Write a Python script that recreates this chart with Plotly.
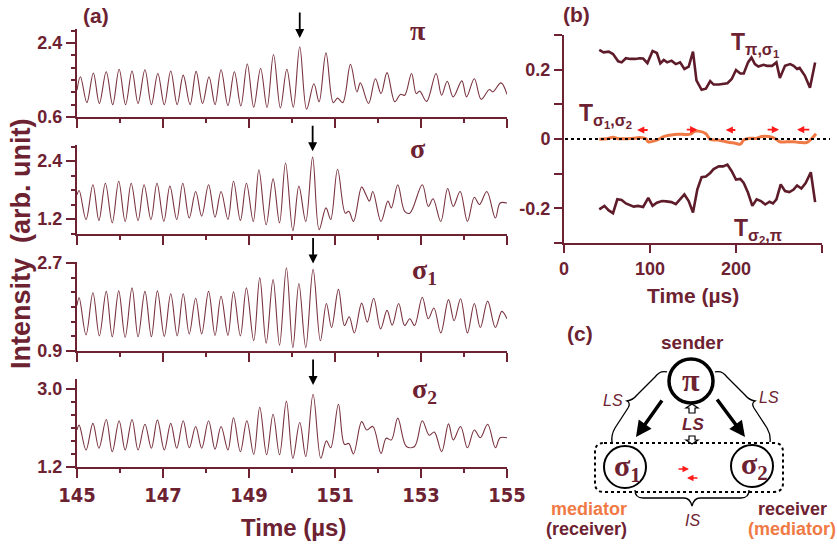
import plotly.graph_objects as go

W, H = 837, 548
MAROON = "#6d2232"
TRACE = "#7a3440"
ORANGE = "#f07a45"

# ---------------- panel (a): intensity traces (time in µs) ----------------
pi_t = [145.00, 145.08, 145.23, 145.38, 145.52, 145.68, 145.83, 145.98, 146.13, 146.28, 146.42, 146.58,
        146.73, 146.88, 147.03, 147.18, 147.33, 147.47, 147.63, 147.77, 147.92, 148.07, 148.21, 148.35,
        148.51, 148.66, 148.81, 148.96, 149.11, 149.27, 149.42, 149.57, 149.73, 149.88, 150.03, 150.18,
        150.34, 150.51, 150.63, 150.79, 150.96, 151.06, 151.18, 151.36, 151.51, 151.59, 151.78, 151.94,
        152.07, 152.21, 152.39, 152.52, 152.62, 152.78, 152.89, 152.97, 153.13, 153.35, 153.48, 153.61,
        153.75, 153.95, 154.06, 154.24, 154.40, 154.59, 154.67, 154.86, 155.00]
pi_v = [1.25, 1.58, 0.95, 1.67, 0.93, 1.70, 0.90, 1.76, 0.90, 1.72, 0.93, 1.75,
        0.90, 1.66, 0.90, 1.72, 0.90, 1.62, 0.90, 1.71, 0.93, 1.58, 0.90, 1.75,
        0.88, 1.70, 0.87, 1.89, 0.84, 1.78, 0.83, 2.12, 0.82, 1.76, 0.84, 2.31,
        0.79, 1.41, 0.97, 2.16, 0.95, 1.06, 0.95, 1.88, 1.21, 1.43, 0.93, 1.53,
        1.17, 1.68, 0.97, 1.15, 1.13, 1.66, 1.17, 1.23, 0.98, 1.66, 1.13, 1.47,
        1.09, 1.48, 1.09, 1.53, 1.03, 1.27, 1.21, 1.43, 1.15]

sg_t = [145.00, 145.05, 145.21, 145.37, 145.51, 145.66, 145.82, 145.97, 146.12, 146.26, 146.42, 146.56,
        146.72, 146.86, 147.02, 147.16, 147.32, 147.46, 147.61, 147.76, 147.90, 148.06, 148.21, 148.35,
        148.51, 148.64, 148.80, 148.94, 149.10, 149.23, 149.40, 149.56, 149.71, 149.85, 150.02, 150.16,
        150.32, 150.48, 150.63, 150.79, 150.90, 151.06, 151.24, 151.32, 151.43, 151.62, 151.72, 151.80,
        151.88, 152.07, 152.23, 152.31, 152.46, 152.62, 152.74, 153.03, 153.17, 153.28, 153.46, 153.62,
        153.75, 153.91, 154.08, 154.24, 154.36, 154.53, 154.73, 154.84, 155.00]
sg_v = [1.70, 1.79, 1.19, 1.91, 1.17, 1.94, 1.12, 1.98, 1.15, 1.94, 1.17, 1.91,
        1.19, 1.94, 1.15, 1.88, 1.19, 1.94, 1.22, 1.77, 1.26, 1.91, 1.24, 1.77,
        1.19, 1.98, 1.17, 1.94, 1.15, 2.22, 1.08, 2.03, 1.12, 2.36, 0.96, 1.88,
        1.15, 2.48, 0.98, 1.43, 1.19, 2.23, 1.32, 1.36, 1.15, 1.86, 1.70, 1.57,
        1.77, 1.15, 1.57, 1.43, 1.91, 1.36, 1.32, 1.91, 1.46, 1.62, 1.15, 1.83,
        1.46, 1.77, 1.15, 1.65, 1.50, 1.77, 1.22, 1.53, 1.53]

s1_t = [145.00, 145.05, 145.21, 145.37, 145.52, 145.68, 145.82, 145.97, 146.12, 146.28, 146.42, 146.58,
        146.73, 146.87, 147.03, 147.18, 147.33, 147.47, 147.61, 147.76, 147.90, 148.06, 148.21, 148.35,
        148.51, 148.64, 148.80, 148.94, 149.11, 149.25, 149.40, 149.56, 149.71, 149.87, 150.02, 150.16,
        150.32, 150.49, 150.66, 150.80, 150.92, 151.08, 151.22, 151.33, 151.45, 151.62, 151.75, 151.90,
        152.06, 152.21, 152.33, 152.48, 152.62, 152.74, 152.85, 153.03, 153.17, 153.30, 153.46, 153.64,
        153.77, 153.92, 154.08, 154.24, 154.38, 154.55, 154.73, 154.88, 155.00]
s1_v = [1.83, 1.99, 1.23, 2.09, 1.21, 2.12, 1.19, 2.13, 1.18, 2.19, 1.19, 2.12,
        1.19, 2.13, 1.20, 2.07, 1.21, 2.07, 1.25, 1.98, 1.25, 2.12, 1.22, 2.02,
        1.22, 2.11, 1.21, 2.19, 1.11, 2.40, 1.06, 2.36, 1.02, 2.60, 0.97, 2.28,
        0.97, 2.57, 1.11, 1.87, 1.38, 2.16, 1.42, 1.60, 1.27, 1.88, 1.49, 1.98,
        1.35, 1.73, 1.43, 1.87, 1.42, 1.56, 1.42, 2.00, 1.56, 1.78, 1.27, 1.95,
        1.52, 1.97, 1.27, 1.87, 1.38, 1.92, 1.38, 1.71, 1.56]

s2_t = [145.00, 145.05, 145.21, 145.37, 145.51, 145.68, 145.82, 145.98, 146.12, 146.28, 146.42, 146.58,
        146.73, 146.87, 147.03, 147.18, 147.32, 147.47, 147.61, 147.76, 147.90, 148.06, 148.21, 148.35,
        148.51, 148.64, 148.80, 148.95, 149.11, 149.25, 149.41, 149.56, 149.71, 149.87, 150.02, 150.18,
        150.32, 150.49, 150.67, 150.80, 150.90, 151.08, 151.22, 151.32, 151.43, 151.62, 151.74, 151.88,
        152.07, 152.19, 152.31, 152.46, 152.66, 152.85, 153.03, 153.19, 153.31, 153.48, 153.64, 153.75,
        153.92, 154.08, 154.24, 154.38, 154.55, 154.73, 154.84, 155.00]
s2_v = [2.05, 2.16, 1.59, 2.20, 1.63, 2.29, 1.55, 2.26, 1.59, 2.29, 1.59, 2.18,
        1.63, 2.28, 1.59, 2.20, 1.63, 2.26, 1.64, 2.13, 1.63, 2.26, 1.61, 2.13,
        1.59, 2.33, 1.55, 2.26, 1.49, 2.57, 1.48, 2.41, 1.48, 2.71, 1.40, 2.22,
        1.44, 2.87, 1.40, 1.80, 1.64, 2.64, 1.72, 1.74, 1.50, 2.24, 2.05, 2.13,
        1.51, 1.86, 1.82, 2.32, 1.67, 1.67, 2.26, 1.93, 2.00, 1.55, 2.19, 1.82,
        2.13, 1.64, 2.05, 1.87, 2.18, 1.64, 1.87, 1.87]

# peak marked by an arrow in each trace: (time, intensity at arrow tip)
mark_t = [150.18, 150.48, 150.49, 150.49]
mark_v = [2.52, 2.60, 2.69, 3.08]

# ---------------- panel (b): transfer entropies vs time ----------------
tps_t = [41, 46, 52, 57, 63, 67, 72, 77, 83, 88, 92, 97, 103, 108, 112, 116, 120, 125, 130, 135,
         140, 145, 150, 154, 160, 165, 170, 174, 180, 185, 190, 195, 200, 205, 209, 214, 218, 222,
         226, 232, 236, 242, 247, 251, 257, 263, 267, 271, 274, 280, 286, 292]
tps_v = [0.257, 0.250, 0.252, 0.245, 0.224, 0.221, 0.233, 0.231, 0.231, 0.233, 0.232, 0.219, 0.254,
         0.248, 0.218, 0.228, 0.221, 0.226, 0.216, 0.221, 0.202, 0.209, 0.252, 0.169, 0.142, 0.145,
         0.167, 0.157, 0.157, 0.159, 0.161, 0.173, 0.199, 0.189, 0.189, 0.221, 0.235, 0.216, 0.209,
         0.214, 0.211, 0.211, 0.221, 0.176, 0.211, 0.216, 0.211, 0.202, 0.205, 0.183, 0.148, 0.221]

tsp_t = [41, 47, 52, 57, 62, 67, 72, 77, 81, 86, 92, 98, 103, 108, 114, 119, 125, 130, 135, 140,
         145, 150, 155, 160, 165, 170, 174, 180, 185, 190, 195, 200, 205, 209, 214, 219, 224, 229,
         234, 239, 243, 247, 252, 257, 262, 267, 271, 276, 281, 287, 292]
tsp_v = [-0.203, -0.193, -0.206, -0.214, -0.174, -0.176, -0.186, -0.190, -0.195, -0.193, -0.196,
         -0.170, -0.193, -0.184, -0.179, -0.180, -0.182, -0.188, -0.174, -0.160, -0.179, -0.212,
         -0.146, -0.110, -0.108, -0.098, -0.087, -0.079, -0.079, -0.074, -0.093, -0.117, -0.115,
         -0.127, -0.155, -0.193, -0.174, -0.179, -0.189, -0.181, -0.186, -0.174, -0.131, -0.150,
         -0.153, -0.146, -0.134, -0.143, -0.127, -0.096, -0.182]

tss_t = [41, 50, 57, 63, 73, 81, 88, 95, 98, 104, 110, 116, 123, 133, 141, 147, 152, 158, 165, 170,
         178, 185, 193, 199, 205, 209, 216, 224, 230, 238, 245, 251, 259, 267, 274, 282, 288, 293]
tss_v = [-0.001, 0.001, 0.005, 0.001, 0.001, 0.002, 0.004, 0.001, -0.008, -0.006, -0.001, 0.007,
         0.011, 0.014, 0.013, 0.014, 0.022, 0.022, 0.015, -0.001, -0.003, -0.006, -0.010, -0.012,
         -0.015, -0.003, 0.002, 0.002, 0.007, 0.007, 0.002, -0.008, -0.008, -0.008, -0.010, -0.010,
         0.001, 0.015]

# direction markers on the σ1–σ2 curve: (tail time, head time, level)
dir_tail = [99, 141, 201, 235, 287]
dir_head = [85, 155, 188, 250, 271]
dir_level = [0.026, 0.027, 0.026, 0.027, 0.027]


def px(x):
    return x / W


def py(y):
    return 1 - y / H


fig = go.Figure()

traces_a = [(pi_t, pi_v), (sg_t, sg_v), (s1_t, s1_v), (s2_t, s2_v)]
for i, (t, v) in enumerate(traces_a, start=1):
    fig.add_trace(go.Scatter(x=t, y=v, mode="lines", line=dict(color=TRACE, width=1.1, shape="spline", smoothing=1.0),
                             xaxis=f"x{i}", yaxis=f"y{i}", showlegend=False, hoverinfo="skip"))

fig.add_trace(go.Scatter(x=tps_t, y=tps_v, mode="lines", line=dict(color="#5e1c2a", width=2.6),
                         xaxis="x5", yaxis="y5", showlegend=False))
fig.add_trace(go.Scatter(x=tsp_t, y=tsp_v, mode="lines", line=dict(color="#5e1c2a", width=2.6),
                         xaxis="x5", yaxis="y5", showlegend=False))
fig.add_trace(go.Scatter(x=tss_t, y=tss_v, mode="lines", line=dict(color=ORANGE, width=3, shape="spline"),
                         xaxis="x5", yaxis="y5", showlegend=False))

# ---------------- axes ----------------
tickfont = dict(family="Liberation Sans, Arial", size=18, color=MAROON, weight="bold")
xtickfont = dict(family="Liberation Sans Narrow, DejaVu Sans Condensed, Liberation Sans", size=20,
                 color=MAROON, weight="bold")

# pixel boxes (top, bottom) of the four stacked plots, ranges and labelled ticks
rows = [
    (29, 117, [0.6, 2.741], [0.6, 2.4], 0.6),
    (145, 234, [0.890, 2.731], [1.2, 2.4], 0.9),
    (262, 351, [0.9, 2.72], [0.9, 2.7], 0.9),
    (379, 467, [1.2, 3.218], [1.2, 3.0], 1.2),
]
layout = dict(width=W, height=H, margin=dict(l=0, r=0, t=0, b=0, autoexpand=False), plot_bgcolor="white",
              paper_bgcolor="white", showlegend=False)
for i, (top, bot, rng, tv, t0) in enumerate(rows, start=1):
    layout[f"xaxis{i}"] = dict(domain=[px(77), px(507)], anchor=f"y{i}", range=[145, 155], automargin=False,
                               showline=True, linecolor=MAROON, linewidth=2, ticks="outside", ticklen=9,
                               tickwidth=2, tickcolor=MAROON, tickvals=[145, 147, 149, 151, 153, 155],
                               showticklabels=(i == 4), tickfont=xtickfont, showgrid=False, zeroline=False,
                               minor=dict(tickvals=[146, 148, 150, 152, 154], ticklen=4, tickwidth=2,
                                          tickcolor=MAROON, ticks="outside", showgrid=False))
    layout[f"yaxis{i}"] = dict(domain=[py(bot), py(top)], anchor=f"x{i}", range=rng, showline=True,
                               automargin=False, linecolor=MAROON, linewidth=2, ticks="outside", ticklen=9,
                               tickwidth=2, tickcolor=MAROON, tickvals=tv, ticktext=[f"{v:.1f}" for v in tv],
                               tickfont=tickfont, showgrid=False, zeroline=False,
                               minor=dict(tick0=t0, dtick=0.3, ticklen=4, tickwidth=2, tickcolor=MAROON,
                                          ticks="outside", showgrid=False))

layout["xaxis5"] = dict(domain=[px(564), px(822)], anchor="y5", range=[0, 300], showline=True, linecolor=MAROON,
                        automargin=False, linewidth=2, ticks="outside", ticklen=8, tickwidth=2, tickcolor=MAROON,
                        tickvals=[0, 100, 200, 300], tickfont=tickfont, showgrid=False, zeroline=False)
layout["yaxis5"] = dict(domain=[py(243), py(35)], anchor="x5", range=[-0.3, 0.3], showline=True,
                        automargin=False, linecolor=MAROON, linewidth=2, ticks="outside", ticklen=8, tickwidth=2,
                        tickcolor=MAROON, tickvals=[-0.3, -0.2, -0.1, 0, 0.1, 0.2, 0.3],
                        ticktext=["", "-0.2", "", "0", "", "0.2", ""], tickfont=tickfont,
                        showgrid=False, zeroline=False)
fig.update_layout(**layout)

ann = []
shapes = []

# arrows above the strongest peaks
for i, (t, v) in enumerate(zip(mark_t, mark_v), start=1):
    ann.append(dict(x=t, y=v, xref=f"x{i}", yref=f"y{i}", ax=0, ay=-27, showarrow=True, arrowhead=2,
                    arrowsize=1, arrowwidth=1.8, arrowcolor="black", text=""))

# direction markers in panel (b)
for a, b, lv in zip(dir_tail, dir_head, dir_level):
    ann.append(dict(x=b, y=lv, ax=a, ay=lv, xref="x5", yref="y5", axref="x5", ayref="y5", showarrow=True,
                    arrowhead=2, arrowsize=0.8, arrowwidth=1.8, arrowcolor="#ff1a1a", text=""))

# zero reference in panel (b)
shapes.append(dict(type="line", xref="paper", yref="y5", x0=px(565), x1=px(830), y0=0, y1=0,
                   line=dict(color="black", width=2, dash="dot")))


def label(text, x, y, size, color=MAROON, family="Liberation Sans, Arial", bold=True, italic=False,
          xanchor="center", yanchor="middle", textangle=0):
    ann.append(dict(text=text, x=px(x), y=py(y), xref="paper", yref="paper", showarrow=False,
                    xanchor=xanchor, yanchor=yanchor, textangle=textangle,
                    font=dict(family=family, size=size, color=color, weight="bold" if bold else "normal",
                              style="italic" if italic else "normal")))


SERIF = "Liberation Serif, DejaVu Serif"
label("(a)", 96, 16, 21)
label("(b)", 576, 15, 21)
label("(c)", 580, 333, 21)
label("Intensity  (arb. unit)", 21, 244, 27, textangle=-90)
label("Time (µs)", 293, 527, 24)
label("Time (µs)", 693, 295, 21)

label("π", 418, 31, 28, family=SERIF)
label("σ", 418, 148, 28, family=SERIF)
label("σ<sub>1</sub>", 410, 271, 28, family=SERIF, xanchor="left")
label("σ<sub>2</sub>", 410, 390, 28, family=SERIF, xanchor="left")

label("T<sub>π,σ<sub>1</sub></sub>", 729, 45, 23, xanchor="left")
label("T<sub>σ<sub>1</sub>,σ<sub>2</sub></sub>", 577, 115, 23, xanchor="left")
label("T<sub>σ<sub>2</sub>,π</sub>", 732, 230, 23, xanchor="left")

# ---------------- panel (c): schematic ----------------
def circle(cx, cy, r, w):
    shapes.append(dict(type="circle", xref="paper", yref="paper", x0=px(cx - r), x1=px(cx + r),
                       y0=py(cy + r), y1=py(cy - r), line=dict(color="black", width=w)))


def path(points_cmd, w=1.3, dash="solid", fill=None):
    shapes.append(dict(type="path", xref="paper", yref="paper", path=points_cmd,
                       line=dict(color="black", width=w, dash=dash), fillcolor=fill))


def P(x, y):
    return f"{px(x):.5f},{py(y):.5f}"


# dotted box around the two σ nodes
r = 9
x0, x1, y0, y1 = 595, 783, 443, 492
path(f"M{P(x0 + r, y0)} L{P(x1 - r, y0)} Q{P(x1, y0)} {P(x1, y0 + r)} L{P(x1, y1 - r)} "
     f"Q{P(x1, y1)} {P(x1 - r, y1)} L{P(x0 + r, y1)} Q{P(x0, y1)} {P(x0, y1 - r)} "
     f"L{P(x0, y0 + r)} Q{P(x0, y0)} {P(x0 + r, y0)}", w=2, dash="dot")

circle(691, 381, 22, 3.5)
circle(625, 467, 21, 2)
circle(752, 466, 21, 2)

# curly braces
path(f"M{P(667, 372)} Q{P(660, 370)} {P(655, 377)} L{P(637, 395)} Q{P(633, 400)} {P(627, 401)} "
     f"Q{P(631, 403)} {P(628, 408)} L{P(615, 428)} Q{P(611, 435)} {P(612, 442)}")
path(f"M{P(715, 372)} Q{P(722, 370)} {P(727, 377)} L{P(745, 395)} Q{P(749, 400)} {P(755, 401)} "
     f"Q{P(751, 403)} {P(754, 408)} L{P(767, 428)} Q{P(771, 435)} {P(770, 442)}")
path(f"M{P(635, 490)} Q{P(635, 498)} {P(643, 498)} L{P(684, 498)} Q{P(690, 498)} {P(692, 506)} "
     f"Q{P(694, 498)} {P(700, 498)} L{P(741, 498)} Q{P(749, 498)} {P(749, 490)}")

# hollow double-headed link under the sender
path(f"M{P(689, 413)} L{P(689, 408)} L{P(686, 408)} L{P(692, 404)} L{P(698, 408)} L{P(695, 408)} "
     f"L{P(695, 413)} Z", w=1.2, fill="white")
path(f"M{P(689, 436)} L{P(689, 440)} L{P(686, 440)} L{P(692, 444)} L{P(698, 440)} L{P(695, 440)} "
     f"L{P(695, 436)} Z", w=1.2, fill="white")

# bold flow arrows
ann.append(dict(x=px(636), y=py(437), xref="paper", yref="paper", ax=27, ay=-38, showarrow=True, arrowhead=2,
                arrowsize=0.9, arrowwidth=3.5, arrowcolor="black", text=""))
ann.append(dict(x=px(745), y=py(437), xref="paper", yref="paper", ax=-29, ay=-39, showarrow=True, arrowhead=2,
                arrowsize=0.9, arrowwidth=3.5, arrowcolor="black", text=""))
# small red exchange arrows
ann.append(dict(x=px(689), y=py(469), xref="paper", yref="paper", ax=-12, ay=0, showarrow=True, arrowhead=2,
                arrowsize=1, arrowwidth=1.3, arrowcolor="#ff1a1a", text=""))
ann.append(dict(x=px(687), y=py(478), xref="paper", yref="paper", ax=12, ay=0, showarrow=True, arrowhead=2,
                arrowsize=1, arrowwidth=1.3, arrowcolor="#ff1a1a", text=""))

label("sender", 692, 342, 19)
label("π", 691, 380, 32, color=MAROON, family=SERIF)
label("σ<sub>1</sub>", 627, 468, 30, family=SERIF)
label("σ<sub>2</sub>", 754, 466, 30, family=SERIF)
label("LS", 613, 400, 16, bold=False, italic=True)
label("LS", 769, 398, 16, bold=False, italic=True)
label("LS", 693, 424, 17, bold=True, italic=True)
label("IS", 692, 520, 16, bold=False, italic=True)
label("mediator", 629, 509, 18, color=ORANGE, xanchor="right")
label("(receiver)", 629, 529, 18, xanchor="right")
label("receiver", 792, 509, 18)
label("(mediator)", 792, 529, 18, color=ORANGE)

fig.update_layout(annotations=ann, shapes=shapes)
fig.write_html("out.html")
